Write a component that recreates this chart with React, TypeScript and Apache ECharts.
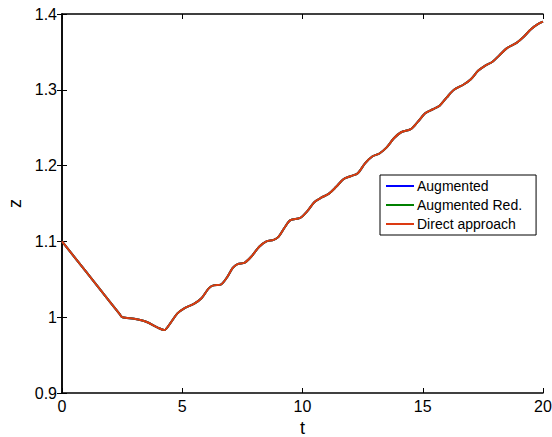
import React, { useEffect, useRef } from "react";
import * as echarts from "echarts";

const tValues: number[] = [
  0, 1.0, 2.0, 2.4, 2.5, 2.7, 3.0, 3.5, 4.0, 4.25, 4.5, 4.8, 5.1, 5.5, 5.8, 6.1, 6.3, 6.6, 6.85, 7.1,
  7.3, 7.6, 7.9, 8.2, 8.5, 8.8, 9.0, 9.25, 9.5, 9.9, 10.2, 10.5, 10.8, 11.1, 11.4, 11.7, 12.0, 12.3,
  12.6, 12.9, 13.2, 13.5, 13.8, 14.1, 14.5, 14.8, 15.1, 15.4, 15.7, 16.0, 16.3, 16.7, 17.0, 17.3,
  17.6, 17.9, 18.2, 18.5, 18.9, 19.2, 19.5, 19.8, 20,
];
const zValues: number[] = [
  1.1, 1.06, 1.02, 1.004, 1.0, 0.999, 0.998, 0.994, 0.986, 0.983, 0.992, 1.005, 1.012, 1.018, 1.025,
  1.038, 1.042, 1.043, 1.052, 1.065, 1.07, 1.072, 1.081, 1.093, 1.1, 1.102, 1.106, 1.118, 1.128,
  1.131, 1.14, 1.152, 1.158, 1.163, 1.172, 1.182, 1.186, 1.19, 1.203, 1.212, 1.216, 1.224, 1.236,
  1.244, 1.248, 1.258, 1.269, 1.274, 1.279, 1.29, 1.3, 1.307, 1.314, 1.325, 1.332, 1.337, 1.346,
  1.355, 1.362, 1.37, 1.38, 1.387, 1.39,
];
const seriesNames = ["Augmented", "Augmented Red.", "Direct approach"];
const seriesColors = ["#0000ff", "#008000", "#dc3a12"];

const FONT = "'Liberation Sans', Arial, Helvetica, sans-serif";

export default function App() {
  const ref = useRef<HTMLDivElement>(null);
  useEffect(() => {
    if (!ref.current) return;
    const chart = echarts.init(ref.current, undefined, { renderer: "svg" });
    const data = tValues.map((t, i) => [t, zValues[i]]);
    const axisLine = { show: true, lineStyle: { color: "#000", width: 1.5 } };
    const tick = { show: true, inside: true, length: 5, lineStyle: { color: "#000", width: 1 } };
    chart.setOption({
      animation: false,
      backgroundColor: "#fff",
      grid: { left: 62, right: 9, top: 14, bottom: 44, containLabel: false, outerBoundsMode: "none" },
      legend: {
        orient: "vertical",
        left: 380,
        top: 175,
        data: seriesNames,
        icon: "rect",
        itemWidth: 28,
        itemHeight: 2,
        itemGap: 5,
        padding: [4, 14, 4, 6],
        borderColor: "#000",
        borderWidth: 1,
        backgroundColor: "#fff",
        textStyle: { fontFamily: FONT, fontSize: 14, color: "#000", padding: [0, 0, 0, -2] },
      },
      xAxis: [
        {
          type: "value",
          min: 0,
          max: 20,
          interval: 5,
          name: "t",
          nameLocation: "middle",
          nameGap: 18,
          nameTextStyle: { fontFamily: FONT, fontSize: 18, color: "#000" },
          axisLine,
          axisTick: tick,
          splitLine: { show: false },
          axisLabel: { fontFamily: FONT, fontSize: 16, color: "#000", margin: 5 },
        },
        {
          type: "value",
          position: "top",
          min: 0,
          max: 20,
          interval: 5,
          axisLine,
          axisTick: tick,
          splitLine: { show: false },
          axisLabel: { show: false },
        },
      ],
      yAxis: [
        {
          type: "value",
          min: 0.9,
          max: 1.4,
          interval: 0.1,
          name: "z",
          nameLocation: "middle",
          nameGap: 35,
          nameRotate: 90,
          nameTextStyle: { fontFamily: FONT, fontSize: 18, color: "#000" },
          axisLine,
          axisTick: tick,
          splitLine: { show: false },
          axisLabel: {
            fontFamily: FONT,
            fontSize: 16,
            color: "#000",
            margin: 5,
            formatter: (v: number) => String(parseFloat(v.toFixed(2))),
          },
        },
        {
          type: "value",
          position: "right",
          min: 0.9,
          max: 1.4,
          interval: 0.1,
          axisLine,
          axisTick: tick,
          splitLine: { show: false },
          axisLabel: { show: false },
        },
      ],
      series: seriesNames.map((name, i) => ({
        name,
        type: "line",
        data,
        showSymbol: false,
        smooth: 0.3,
        color: seriesColors[i],
        lineStyle: { width: 2, color: seriesColors[i] },
        z: 2 + i,
      })),
    });
    return () => chart.dispose();
  }, []);
  return (
    <div
      ref={ref}
      style={{ position: "fixed", left: 0, top: 0, width: 552, height: 437, background: "#fff" }}
    />
  );
}
